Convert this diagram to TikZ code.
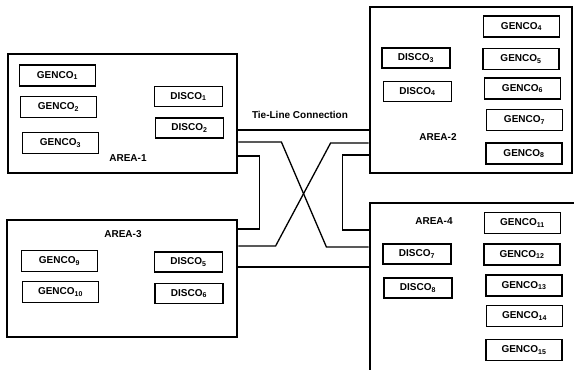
\documentclass[tikz,border=0pt]{standalone}
\usepackage{fontspec}
\setmainfont{Liberation Sans}
\usepackage{tikz}
\usetikzlibrary{positioning,calc}

\begin{document}
\begin{tikzpicture}[
  x=1pt, y=-1pt,
  font=\bfseries\fontsize{10}{12}\selectfont,
  area/.style={draw=black, line width=2.8pt, rectangle, inner sep=0pt},
  genco/.style={draw=black, line width=1.8pt, rectangle, minimum width=76pt, minimum height=21pt, inner sep=0pt},
  disco/.style={draw=black, line width=1.8pt, rectangle, minimum width=68pt, minimum height=20pt, inner sep=0pt},
  tie/.style={draw=black, line width=1.3pt}
]
  \useasboundingbox (0,0) rectangle (574,370);
  \clip (0,0) rectangle (574,370);

  \node[area, minimum width=229pt, minimum height=119pt] (area1) at (122.5,113.5) {};
  \node[area, minimum width=202pt, minimum height=166pt] (area2) at (471,90) {};
  \node[area, minimum width=230pt, minimum height=117pt] (area3) at (122,278.5) {};
  \node[area, minimum width=212pt, minimum height=176pt] (area4) at (476,291) {};

  \node (lab1) at (128,158) {AREA-1};
  \node (lab2) at (438,137) {AREA-2};
  \node (lab3) at (123,234) {AREA-3};
  \node (lab4) at (434,221) {AREA-4};
  \node (tielab) at (300,115) {Tie-Line Connection};

  \node[genco] (g1) at (57.5,75.5) {GENCO\textsubscript{1}};
  \node[genco] (g2) at (58.5,107) {GENCO\textsubscript{2}};
  \node[genco] (g3) at (60.5,143) {GENCO\textsubscript{3}};
  \node[disco] (d1) at (188.5,96.5) {DISCO\textsubscript{1}};
  \node[disco] (d2) at (189.5,128) {DISCO\textsubscript{2}};

  \node[genco] (g4) at (521.5,26.5) {GENCO\textsubscript{4}};
  \node[genco] (g5) at (521,59) {GENCO\textsubscript{5}};
  \node[genco] (g6) at (522.5,88.5) {GENCO\textsubscript{6}};
  \node[genco] (g7) at (524.5,120) {GENCO\textsubscript{7}};
  \node[genco] (g8) at (524,153.5) {GENCO\textsubscript{8}};
  \node[disco] (d3) at (416,58) {DISCO\textsubscript{3}};
  \node[disco] (d4) at (417.5,91.5) {DISCO\textsubscript{4}};

  \node[genco] (g9) at (59.5,261) {GENCO\textsubscript{9}};
  \node[genco] (g10) at (60.5,292) {GENCO\textsubscript{10}};
  \node[disco] (d5) at (188.5,262) {DISCO\textsubscript{5}};
  \node[disco] (d6) at (189,293.5) {DISCO\textsubscript{6}};

  \node[genco] (g11) at (522.5,223) {GENCO\textsubscript{11}};
  \node[genco] (g12) at (522,254.5) {GENCO\textsubscript{12}};
  \node[genco] (g13) at (524,285.5) {GENCO\textsubscript{13}};
  \node[genco] (g14) at (524.5,316) {GENCO\textsubscript{14}};
  \node[genco] (g15) at (524,350) {GENCO\textsubscript{15}};
  \node[disco] (d7) at (417,254) {DISCO\textsubscript{7}};
  \node[disco] (d8) at (418,288) {DISCO\textsubscript{8}};

  \draw[tie] ([yshift=-16.5pt]area1.east) -- ([yshift=-40pt]area2.west);
  \draw[tie] ([yshift=-28.5pt]area1.east) -- ++(43,0) -- ++(45,105) -- ([yshift=44pt]area4.west);
  \draw[tie] ([yshift=-53pt]area2.west) -- ++(-38,0) -- ++(-55,103) -- ([yshift=32.5pt]area3.east);
  \draw[tie] ([yshift=-42.5pt]area1.east) -- ++(21,0) |- ([yshift=49.5pt]area3.east);
  \draw[tie] ([yshift=-65pt]area2.west) -- ++(-26,0) |- ([yshift=61pt]area4.west);
  \draw[tie] ([yshift=11.5pt]area3.east) -- ([yshift=24pt]area4.west);
\end{tikzpicture}
\end{document}
